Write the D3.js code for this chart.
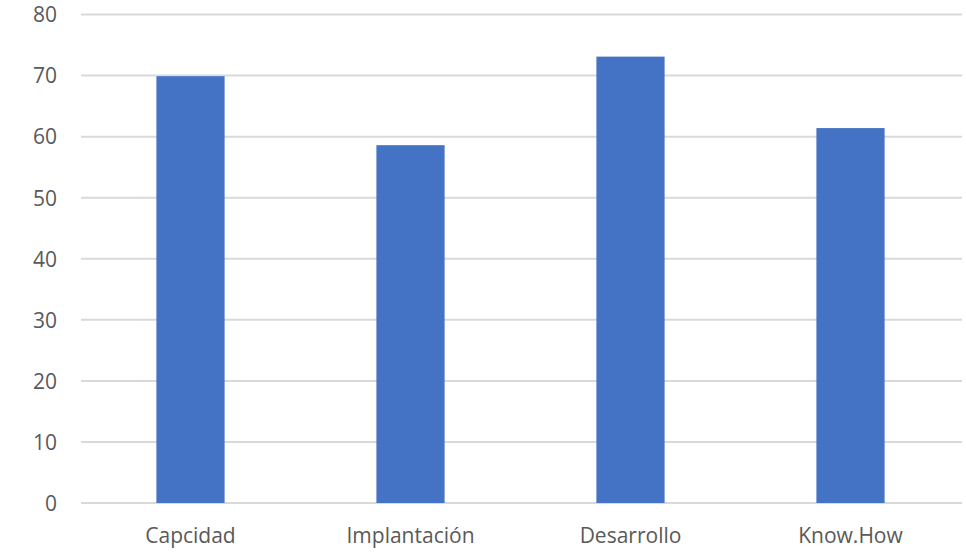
<!DOCTYPE html>
<html><head><meta charset="utf-8">
<script src="https://cdn.jsdelivr.net/npm/d3@7"></script>
<style>body{margin:0;background:#fff;} text{font-family:"Open Sans",sans-serif;fill:#595959;}</style>
</head><body><svg id="c" width="966" height="552"></svg>
<script>
const categories = ["Capcidad", "Implantación", "Desarrollo", "Know.How"];
const values = [69.9, 58.6, 73.1, 61.4];
const yTicks = [0, 10, 20, 30, 40, 50, 60, 70, 80];

const svg = d3.select("#c");
const x = d3.scaleBand().domain(categories).range([80.5, 960.5]).paddingInner(0.69).paddingOuter(0.345);
const y = d3.scaleLinear().domain([0, 80]).range([503, 14.5]);

svg.append("g").selectAll("line").data(yTicks).join("line")
  .attr("x1", 81).attr("x2", 962)
  .attr("y1", d => y(d)).attr("y2", d => y(d))
  .attr("stroke", "#d9d9d9").attr("stroke-width", 2);

svg.append("g").selectAll("text").data(yTicks).join("text")
  .attr("x", 57).attr("y", d => y(d) + 0.5).attr("dy", "0.35em")
  .attr("text-anchor", "end").attr("font-size", 21).text(d => d);

svg.append("g").selectAll("rect").data(categories).join("rect")
  .attr("x", d => x(d)).attr("width", x.bandwidth())
  .attr("y", (d, i) => y(values[i])).attr("height", (d, i) => y(0) - y(values[i]))
  .attr("fill", "#4472c4");

svg.append("g").selectAll("text").data(categories).join("text")
  .attr("x", d => x(d) + x.bandwidth() / 2).attr("y", 536).attr("dy", "0.35em")
  .attr("text-anchor", "middle").attr("font-size", 21).text(d => d);
</script></body></html>
